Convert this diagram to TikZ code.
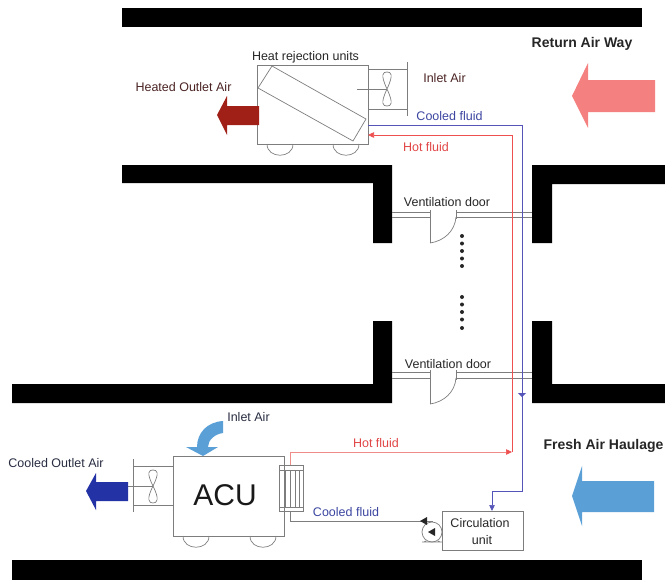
\documentclass[tikz,border=0pt]{standalone}
\usepackage{fontspec}
\setmainfont{Liberation Sans}
\usetikzlibrary{arrows.meta,calc}
\definecolor{lgrey}{RGB}{125,125,125}
\definecolor{hotred}{RGB}{238,80,80}
\definecolor{palered}{RGB}{240,140,135}
\definecolor{coolblue}{RGB}{85,85,185}
\definecolor{txtblue}{RGB}{60,70,160}
\definecolor{txtred}{RGB}{225,70,70}
\definecolor{maroon}{RGB}{75,35,35}
\definecolor{navytxt}{RGB}{40,45,65}
\definecolor{pinkar}{RGB}{245,128,128}
\definecolor{skyar}{RGB}{90,160,215}
\definecolor{darkred}{RGB}{160,32,24}
\definecolor{navyar}{RGB}{35,50,165}
\tikzset{
  x=1pt,y=-1pt,
  wall/.style={fill=black,draw=none},
  equip/.style={draw=lgrey,line width=0.7pt,fill=none,inner sep=0pt,outer sep=0pt},
  pipe/.style={line width=0.7pt},
  hotpipe/.style={pipe,draw=hotred},
  paleredpipe/.style={pipe,draw=palered},
  coolpipe/.style={pipe,draw=coolblue},
  hothead/.style={-{Triangle[length=6pt,width=5.5pt,color=hotred]}},
  coolhead/.style={-{Triangle[length=6pt,width=5.5pt,color=coolblue]}},
  lbl/.style={inner sep=0pt,font=\fontsize{12.5}{14}\selectfont},
  boldlbl/.style={inner sep=0pt,font=\fontsize{14}{16}\selectfont\bfseries,text=black!85},
  dotline/.style={fill=black!85,draw=none},
  door/.style={draw=lgrey,line width=0.7pt},
}
\begin{document}
\begin{tikzpicture}
\useasboundingbox (0,0) rectangle (665,581);
% walls
\fill[wall] (122,8) rectangle (642,27);
\fill[wall] (122,165) -- (392,165) -- (392,243) -- (373,243) -- (373,183) -- (122,183) -- cycle;
\fill[wall] (665,165) -- (532,165) -- (532,243) -- (552,243) -- (552,184) -- (665,184) -- cycle;
\fill[wall] (12,384) -- (373,384) -- (373,321) -- (392,321) -- (392,403) -- (12,403) -- cycle;
\fill[wall] (665,384) -- (552,384) -- (552,321) -- (532,321) -- (532,403) -- (665,403) -- cycle;
\fill[wall] (12,560) rectangle (642,580);
% doors
\foreach \ya/\yb/\yc in {212/217/243,372/378/404}{
  \draw[door] (392,\ya) -- (430,\ya) (392,\yb) -- (430,\yb) (430,\ya-2) -- (430,\yc);
  \draw[door] (456,\ya) -- (532,\ya) (456,\yb) -- (532,\yb) (456,\ya-2) -- (456,\yb+2);
  \draw[door] (430,\yc) .. controls (444,\yc-2) and (455,\yc-12) .. (456,\yb);
}
\foreach \yy in {236,243.5,251,258.5,266,297,304.5,312,319.5,328}
  \fill[dotline] (462,\yy) circle (2pt);
% heat rejection unit
\node[equip,minimum width=111pt,minimum height=79pt] (hr) at (312.5,104.5) {};
\draw[equip] (272,66) -- (366,119) -- (353,141) -- (258,88) -- cycle;
\draw[equip] (267,144) .. controls (267,159) and (293,159) .. (293,144);
\draw[equip] (333,144) .. controls (333,159) and (359,159) .. (359,144);
\coordinate (hrtop) at (hr.east |- 0,69);
\coordinate (hrbot) at (hr.east |- 0,109);
\draw[equip] (hrtop) -- (407,69) (hrbot) -- (407,109) (407,62) -- (407,116) (357,89) -- (387,89);
\draw[equip] (387,89) .. controls (380,74) and (383,72) .. (387,72) .. controls (391,72) and (394,74) .. (387,89);
\draw[equip] (387,89) .. controls (380,104) and (383,106) .. (387,106) .. controls (391,106) and (394,104) .. (387,89);
% ACU
\node[equip,minimum width=111pt,minimum height=80pt] (acu) at (228.5,496) {};
\node[inner sep=0pt,font=\fontsize{30}{32}\selectfont,text=black!90] (acutxt) at (225,495) {ACU};
\draw[equip] (183,536) .. controls (183,551) and (209,551) .. (209,536);
\draw[equip] (250,536) .. controls (250,551) and (276,551) .. (276,536);
\coordinate (actop) at (acu.west |- 0,466);
\coordinate (acbot) at (acu.west |- 0,505);
\draw[equip] (actop) -- (133.5,466) (acbot) -- (133.5,505) (133.5,459) -- (133.5,512) (113,486) -- (153,486);
\draw[equip] (153,486) .. controls (146,472) and (149,470) .. (153,470) .. controls (157,470) and (160,472) .. (153,486);
\draw[equip] (153,486) .. controls (146,500) and (149,503) .. (153,503) .. controls (157,503) and (160,500) .. (153,486);
% heat exchanger
\node[equip,minimum width=24pt,minimum height=46pt] (hx) at (291,488) {};
\draw[equip] (279,470) -- (303,470) (279,507) -- (303,507);
\foreach \xx in {285,290,295,299} \draw[equip] (\xx,470) -- (\xx,507);
% circulation unit
\node[equip,minimum width=81pt,minimum height=39pt] (circ) at (482.5,530.5) {};
\node[lbl,text=black!85] (circa) at (480,523) {Circulation};
\node[lbl,text=black!85] (circb) at (482,540) {unit};
% pump
\node[equip,circle,minimum size=20pt] (pump) at (432,532) {};
\draw[equip] (pump.east) -- (circ.west |- pump.east);
\draw[equip] (422,542) -- (442,542) (426,541) -- (424,542) (438,541) -- (440,542);
\fill[black!85] (428,532) -- (435,528) -- (435,536) -- cycle;
% piping
\coordinate (hrhot) at (hr.east |- 0,135);
\coordinate (hrcool) at (hr.east |- 0,125);
\coordinate (hotcorner) at (512,135);
\coordinate (hotend) at (512,452);
\coordinate (hxhot) at (290,452);
\coordinate (coolcorner) at (522,125);
\coordinate (coolturn) at (522,491);
\coordinate (coolturnb) at (492,491);
\coordinate (hxcool) at (290,521);
\draw[hotpipe,hothead] (hotend) -- (hotcorner) -- (hrhot);
\draw[coolpipe] (hrcool) -- (coolcorner) -- (coolturn) -- (coolturnb);
\draw[coolpipe,coolhead] (coolturnb) -- (circ.north -| coolturnb);
\fill[coolblue] (522,397) -- (518,393) -- (526,393) -- cycle;
\draw[paleredpipe] (hx.north -| hxhot) -- (hxhot);
\draw[paleredpipe,hothead] (hxhot) -- (hotend);
\draw[equip] (hx.south -| hxcool) -- (hxcool) -- (pump.north |- hxcool) -- (pump.north);
\fill[black!85] (420,521) -- (427,517) -- (427,525) -- cycle;
% big air arrows
\fill[pinkar] (572,96) -- (588,63) -- (588,80) -- (655,80) -- (655,112) -- (588,112) -- (588,128) -- cycle;
\fill[skyar] (572,496) -- (582,466) -- (582,481) -- (654,481) -- (654,512) -- (582,512) -- (582,526) -- cycle;
\fill[darkred] (217,115) -- (227,96) -- (227,106) -- (259,106) -- (259,125) -- (227,125) -- (227,135) -- cycle;
\fill[navyar] (86,491) -- (96,473) -- (96,482) -- (128,482) -- (128,501) -- (96,501) -- (96,510) -- cycle;
\fill[skyar] (203,456) -- (186,447) -- (197,447) .. controls (197,433) and (207,422) .. (223,421) -- (223,433) .. controls (215,434) and (208,440) .. (208,447) -- (218,447) -- cycle;
% labels
\node[lbl,text=black!85] (l1) at (305.5,57) {Heat rejection units};
\node[lbl,text=maroon] (l2) at (183.5,87) {Heated Outlet Air};
\node[lbl,text=maroon] (l3) at (444.5,78) {Inlet Air};
\node[lbl,text=txtblue] (l4) at (449.5,116) {Cooled fluid};
\node[lbl,text=txtred] (l5) at (426,147) {Hot fluid};
\node[lbl,text=black!85] (l6) at (447,202) {Ventilation door};
\node[lbl,text=black!85] (l7) at (448,364) {Ventilation door};
\node[lbl,text=txtred] (l8) at (376,443) {Hot fluid};
\node[lbl,text=txtblue] (l9) at (346,512) {Cooled fluid};
\node[lbl,text=navytxt] (l10) at (248.5,417) {Inlet Air};
\node[lbl,text=navytxt] (l11) at (56,463) {Cooled Outlet Air};
\node[boldlbl] (l12) at (582,44) {Return Air Way};
\node[boldlbl] (l13) at (603.5,446) {Fresh Air Haulage};
\end{tikzpicture}
\end{document}
